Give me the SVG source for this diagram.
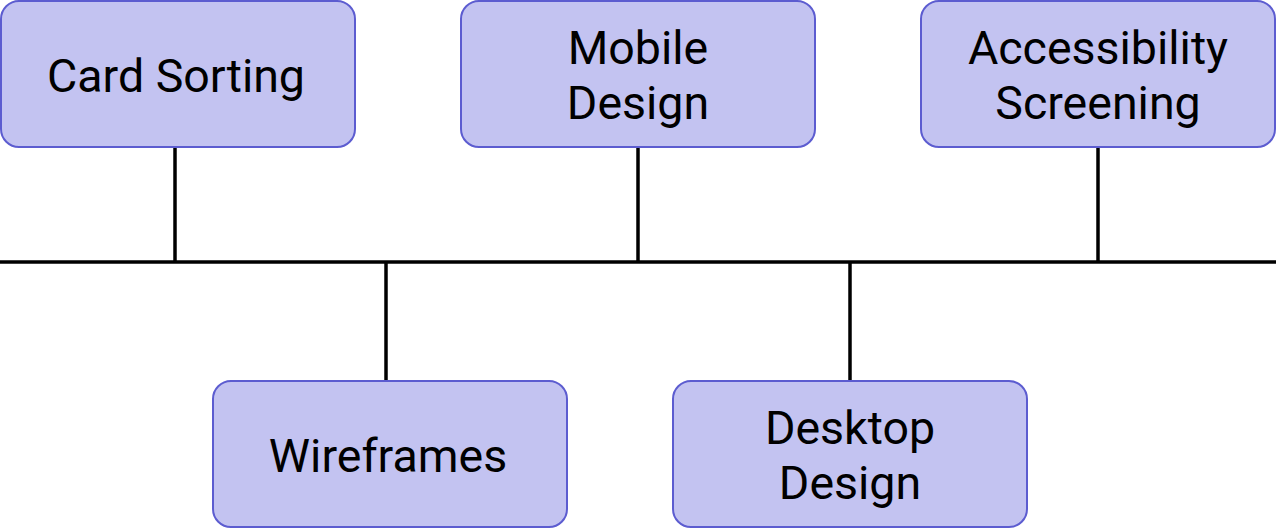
<svg xmlns="http://www.w3.org/2000/svg" width="1276" height="528" viewBox="0 0 1276 528">
<style>
.box{fill:#c3c3f1;stroke:#5c5cd0;stroke-width:2}
.lbl{font-family:Roboto,"Liberation Sans",sans-serif;font-size:46.5px;fill:#000;text-anchor:middle}
.ln{stroke:#000;stroke-width:3.5;fill:none}
</style>
<rect width="1276" height="528" fill="#fff"/>
<g id="connectors">
<line class="ln" x1="0" y1="262" x2="1276" y2="262"/>
<line class="ln" x1="175" y1="147" x2="175" y2="262"/>
<line class="ln" x1="638" y1="147" x2="638" y2="262"/>
<line class="ln" x1="1098" y1="147" x2="1098" y2="262"/>
<line class="ln" x1="386" y1="262" x2="386" y2="381"/>
<line class="ln" x1="850" y1="262" x2="850" y2="381"/>
</g>
<g id="card-sorting">
<rect class="box" x="1" y="1" width="354" height="146" rx="18"/>
<text class="lbl" x="176" y="92">Card Sorting</text>
</g>
<g id="mobile-design">
<rect class="box" x="461" y="1" width="354" height="146" rx="18"/>
<text class="lbl" x="638" y="64">Mobile</text>
<text class="lbl" x="638" y="119">Design</text>
</g>
<g id="accessibility-screening">
<rect class="box" x="921" y="1" width="354" height="146" rx="18"/>
<text class="lbl" x="1098" y="64">Accessibility</text>
<text class="lbl" x="1098" y="119">Screening</text>
</g>
<g id="wireframes">
<rect class="box" x="213" y="381" width="354" height="146" rx="18"/>
<text class="lbl" x="388" y="472">Wireframes</text>
</g>
<g id="desktop-design">
<rect class="box" x="673" y="381" width="354" height="146" rx="18"/>
<text class="lbl" x="850" y="444">Desktop</text>
<text class="lbl" x="850" y="499">Design</text>
</g>
</svg>
